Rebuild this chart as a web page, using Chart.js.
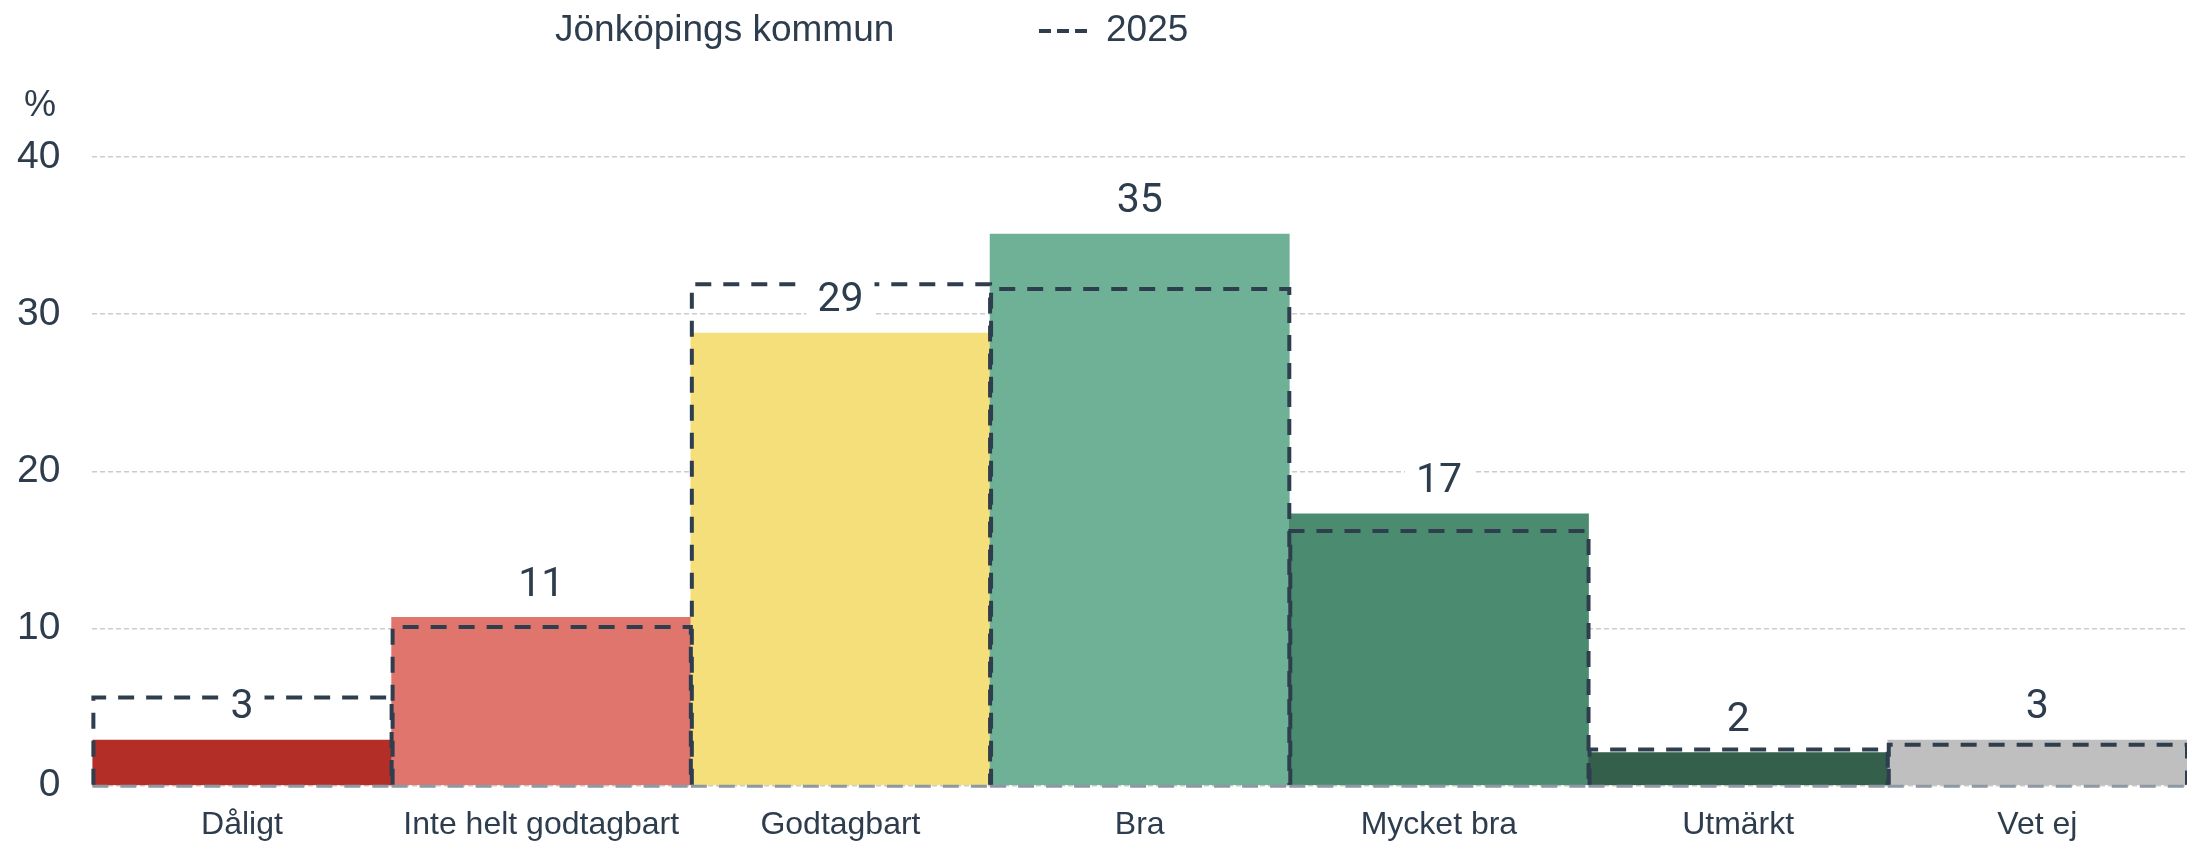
<!DOCTYPE html>
<html lang="sv">
<head>
<meta charset="utf-8">
<title>Jönköpings kommun</title>
<script src="https://cdn.jsdelivr.net/npm/chart.js@4.4.1/dist/chart.umd.min.js"></script>
<style>
  html, body { margin: 0; padding: 0; background: #fff; }
  .chart-wrap { position: relative; width: 2187px; height: 844px; }
</style>
</head>
<body>
<div class="chart-wrap"><canvas id="chart"></canvas></div>
<script>
const categories = ["Dåligt", "Inte helt godtagbart", "Godtagbart", "Bra", "Mycket bra", "Utmärkt", "Vet ej"];
const kommunValues = [2.9, 10.7, 28.8, 35.1, 17.3, 2.1, 2.9];
const previousValues = [5.6, 10.1, 31.9, 31.6, 16.2, 2.3, 2.6];
const barColors = ["#b22e27", "#e0756d", "#f5df7b", "#6fb196", "#4b8c70", "#335f4b", "#bfbfbf"];
const yTicks = [0, 10, 20, 30, 40];
const seriesName = "Jönköpings kommun";
const compareName = "2025";
const unitLabel = "%";

const textColor = "#2e3d4d";
const outlineColor = "#2f3e4e";
const sansFont = "'Liberation Sans', Arial, sans-serif";
const labelFont = "Roboto, 'Open Sans', sans-serif";

// dashed outlines for 2025 + value labels on top
const barDecorations = {
  id: 'barDecorations',
  afterDatasetsDraw(chart) {
    const ctx = chart.ctx;
    const outlines = chart.getDatasetMeta(1).data;

    ctx.save();
    ctx.setLineDash([16, 12]);
    outlines.forEach(bar => {
      const left = bar.x - bar.width / 2;
      const right = bar.x + bar.width / 2;

      ctx.strokeStyle = "#8e98a3";
      ctx.lineWidth = 3;
      ctx.beginPath();
      ctx.moveTo(left, bar.base + 1.5);
      ctx.lineTo(right, bar.base + 1.5);
      ctx.stroke();

      ctx.strokeStyle = outlineColor;
      ctx.lineWidth = 4;
      ctx.beginPath();
      ctx.moveTo(left + 1, bar.base);
      ctx.lineTo(left + 1, bar.y);
      ctx.lineTo(right, bar.y);
      ctx.lineTo(right, bar.base);
      ctx.stroke();
    });
    ctx.restore();

    const bars = chart.getDatasetMeta(0).data;
    ctx.save();
    ctx.font = "41px " + labelFont;
    ctx.textAlign = "center";
    ctx.textBaseline = "middle";
    bars.forEach((bar, i) => {
      const text = String(Math.round(kommunValues[i]));
      const cy = bar.y - 33;
      const w = ctx.measureText(text).width + 22;
      ctx.fillStyle = "#ffffff";
      ctx.fillRect(bar.x - w / 2, cy - 21, w, 42);
      ctx.fillStyle = textColor;
      ctx.fillText(text, bar.x, cy + 1);
    });
    ctx.restore();
  }
};

// legend row and unit label
const topLegend = {
  id: 'topLegend',
  afterDraw(chart) {
    const ctx = chart.ctx;
    const y = 31;
    ctx.save();
    ctx.fillStyle = textColor;
    ctx.textBaseline = "middle";
    ctx.textAlign = "left";
    ctx.font = "37px " + sansFont;
    ctx.fillText(seriesName, 555, y);

    ctx.strokeStyle = outlineColor;
    ctx.lineWidth = 4;
    ctx.setLineDash([12, 6]);
    ctx.beginPath();
    ctx.moveTo(1039, y);
    ctx.lineTo(1087, y);
    ctx.stroke();
    ctx.fillText(compareName, 1106, y);

    ctx.font = "36px " + sansFont;
    ctx.fillText(unitLabel, 24, chart.chartArea.top - 51);
    ctx.restore();
  }
};

new Chart(document.getElementById('chart'), {
  type: 'bar',
  data: {
    labels: categories,
    datasets: [
      {
        label: seriesName,
        data: kommunValues,
        backgroundColor: barColors,
        borderWidth: 0,
        grouped: false,
        categoryPercentage: 1,
        barPercentage: 1
      },
      {
        label: compareName,
        data: previousValues,
        backgroundColor: 'rgba(0,0,0,0)',
        borderWidth: 0,
        grouped: false,
        categoryPercentage: 1,
        barPercentage: 1
      }
    ]
  },
  options: {
    responsive: true,
    maintainAspectRatio: false,
    animation: false,
    events: [],
    layout: {
      padding: { top: 157, left: -15, right: -10, bottom: -20 }
    },
    plugins: {
      legend: { display: false },
      tooltip: { enabled: false }
    },
    scales: {
      x: {
        grid: { display: false, drawTicks: false },
        border: { display: false },
        ticks: {
          color: textColor,
          padding: 20,
          maxRotation: 0,
          autoSkip: false,
          font: { family: sansFont, size: 32 }
        }
      },
      y: {
        min: 0,
        max: 40,
        afterBuildTicks: axis => {
          axis.ticks = yTicks.map(v => ({ value: v }));
        },
        ticks: {
          color: textColor,
          padding: 32,
          font: { family: sansFont, size: 39 }
        },
        grid: {
          color: "#cccccc",
          lineWidth: 1.5,
          drawTicks: false
        },
        border: { display: false, dash: [5, 3] }
      }
    }
  },
  plugins: [barDecorations, topLegend]
});
</script>
</body>
</html>
